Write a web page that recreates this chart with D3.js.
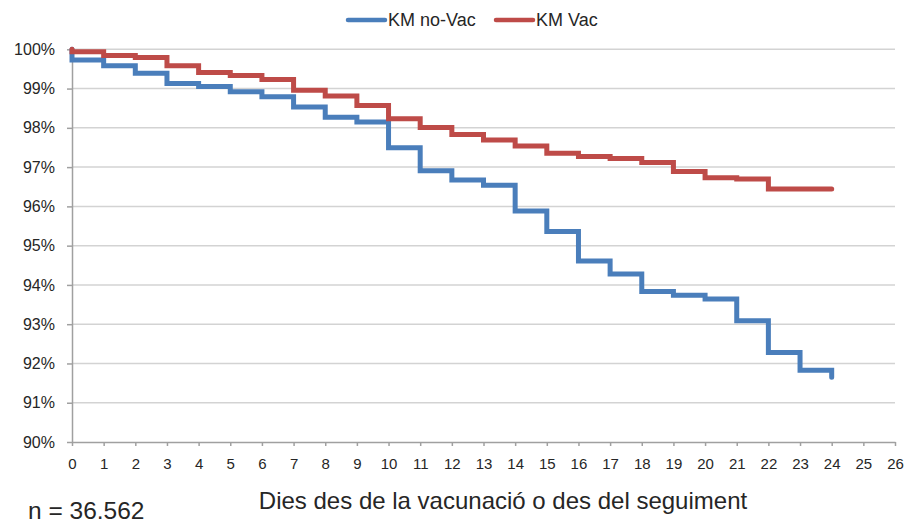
<!DOCTYPE html>
<html>
<head>
<meta charset="utf-8">
<script src="https://cdn.jsdelivr.net/npm/d3@7"></script>
<style>
  body { margin: 0; background: #fff; }
  svg text { font-family: "Liberation Sans", Arial, sans-serif; fill: #262626; }
</style>
</head>
<body>
<div id="chart"></div>
<script>
// dies de seguiment
const days = d3.range(0, 25)
const xTicks = d3.range(0, 27)
const yTicks = [90, 91, 92, 93, 94, 95, 96, 97, 98, 99, 100]

// supervivencia (%) a cada interval [dia, dia+1)
const kmNoVac = [99.73, 99.58, 99.39, 99.13, 99.05, 98.92, 98.79, 98.53, 98.27, 98.15,
  97.49, 96.91, 96.67, 96.54, 95.88, 95.36, 94.61, 94.28, 93.83, 93.74,
  93.64, 93.09, 92.28, 91.83, 91.65]
const kmVac = [99.94, 99.84, 99.79, 99.58, 99.41, 99.33, 99.23, 98.96, 98.81, 98.57,
  98.23, 98.01, 97.83, 97.69, 97.54, 97.35, 97.27, 97.22, 97.12, 96.89,
  96.73, 96.70, 96.44, 96.44, 96.44]

const series = [
  { name: 'KM no-Vac', values: kmNoVac, color: '#4a7ebb' },
  { name: 'KM Vac', values: kmVac, color: '#be4b48' }
]

const w = 907
const h = 523
const margin = { top: 49.3, right: 12, bottom: 81, left: 72 }

const svg = d3.select('#chart')
  .append('svg')
  .attr('width', w)
  .attr('height', h)

const xScale = d3.scaleLinear()
  .domain([0, 26])
  .range([margin.left, w - margin.right])

const yScale = d3.scaleLinear()
  .domain([90, 100])
  .range([h - margin.bottom, margin.top])

// gridlines
svg.append('g')
  .selectAll('line')
  .data(yTicks.filter(d => d > 90))
  .enter()
  .append('line')
  .attr('x1', xScale(0))
  .attr('x2', xScale(26))
  .attr('y1', d => yScale(d))
  .attr('y2', d => yScale(d))
  .attr('stroke', '#d3d3d3')
  .attr('stroke-width', 1.5)

const xAxis = d3.axisBottom(xScale)
  .tickValues(xTicks)
  .tickSize(4)
  .tickSizeOuter(0)
  .tickPadding(12)
  .tickFormat(d3.format('d'))

const yAxis = d3.axisLeft(yScale)
  .tickValues(yTicks)
  .tickSize(5)
  .tickSizeOuter(0)
  .tickPadding(12)
  .tickFormat(d => d + '%')

const gx = svg.append('g')
  .attr('transform', 'translate(0,' + yScale(90) + ')')
  .call(xAxis)
gx.selectAll('text').attr('font-size', 15)

const gy = svg.append('g')
  .attr('transform', 'translate(' + xScale(0) + ',0)')
  .call(yAxis)
gy.selectAll('text').attr('font-size', 16)

svg.selectAll('.domain, .tick line')
  .attr('stroke', '#a0a0a0')
  .attr('stroke-width', 1.5)

// corbes Kaplan-Meier (esglaons)
const line = d3.line()
  .x(d => xScale(d[0]))
  .y(d => yScale(d[1]))
  .curve(d3.curveStepAfter)

series.forEach(s => {
  const pts = [[0, 100]].concat(days.map((d, i) => [d, s.values[i]]))
  svg.append('path')
    .datum(pts)
    .attr('d', line)
    .attr('fill', 'none')
    .attr('stroke', s.color)
    .attr('stroke-width', 5)
    .attr('stroke-linejoin', 'miter')
    .attr('stroke-linecap', 'round')
})

// llegenda
const legend = svg.append('g')
const legX = [348, 496]
series.forEach((s, i) => {
  legend.append('line')
    .attr('x1', legX[i])
    .attr('x2', legX[i] + 37)
    .attr('y1', 20)
    .attr('y2', 20)
    .attr('stroke', s.color)
    .attr('stroke-width', 4.5)
    .attr('stroke-linecap', 'round')
  legend.append('text')
    .attr('x', legX[i] + 40)
    .attr('y', 26)
    .attr('font-size', 18)
    .text(s.name)
})

svg.append('text')
  .attr('x', 503)
  .attr('y', 508.5)
  .attr('text-anchor', 'middle')
  .attr('font-size', 24)
  .attr('fill', '#111')
  .text('Dies des de la vacunació o des del seguiment')

svg.append('text')
  .attr('x', 28)
  .attr('y', 519)
  .attr('font-size', 24.5)
  .attr('fill', '#111')
  .text('n = 36.562')
</script>
</body>
</html>
